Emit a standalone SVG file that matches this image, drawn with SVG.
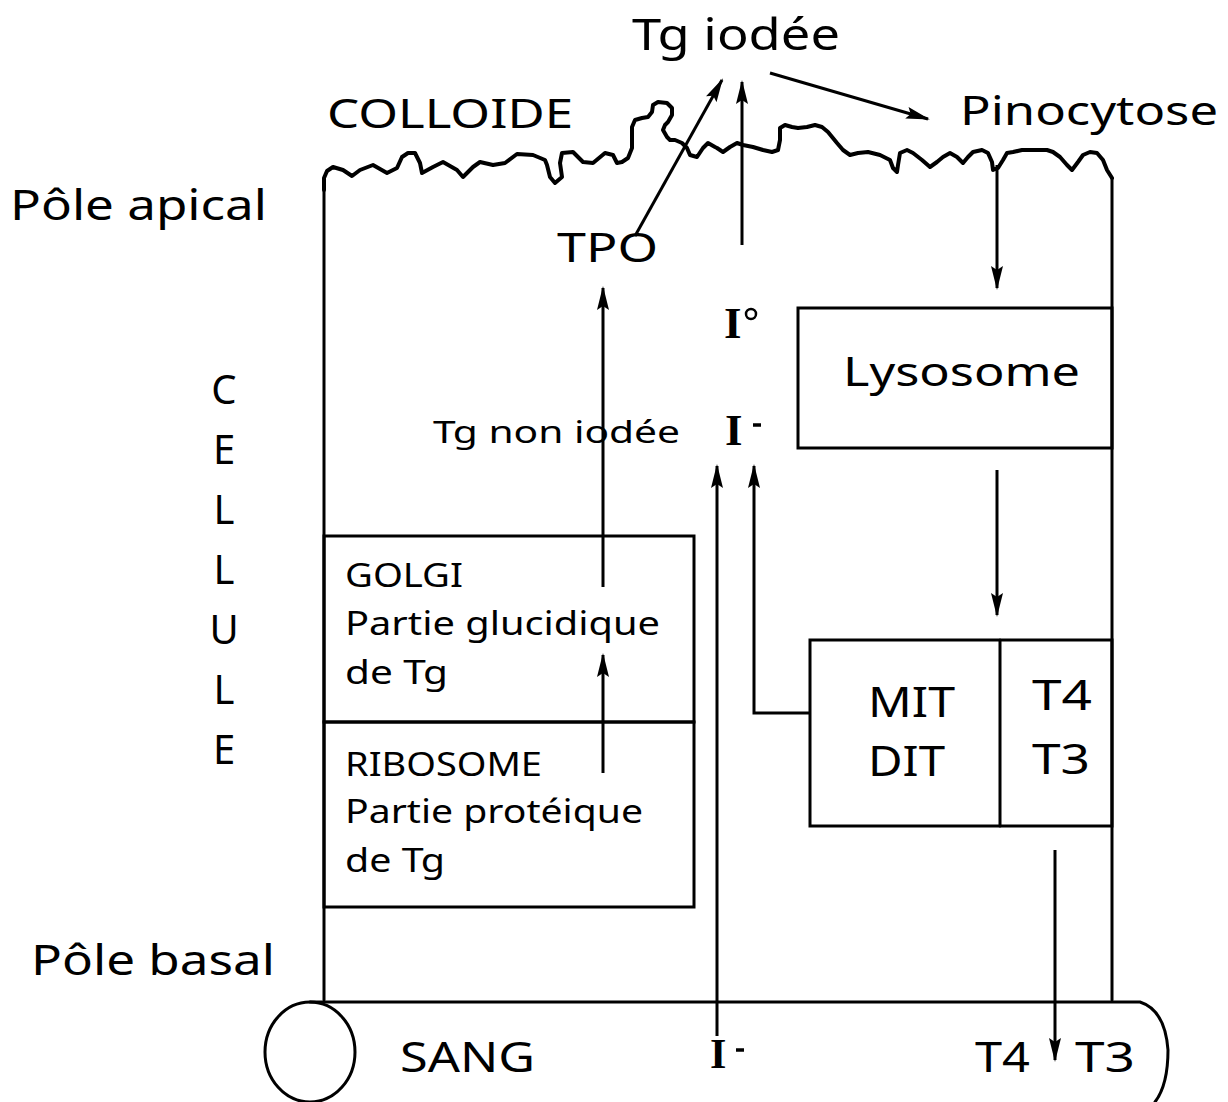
<svg xmlns="http://www.w3.org/2000/svg" width="1228" height="1102" viewBox="0 0 1228 1102">
<style>
.t{font-family:"Noto Sans","Open Sans",sans-serif;fill:#000}
.b{font-family:"Liberation Serif",serif;font-weight:bold;fill:#000}
.ln{fill:none;stroke:#000;stroke-width:3;stroke-linejoin:round;stroke-linecap:round}
.wave{fill:none;stroke:#000;stroke-width:4;stroke-linejoin:round;stroke-linecap:round}
.box{fill:none;stroke:#000;stroke-width:3}
.ar{fill:none;stroke:#000;stroke-width:3;marker-end:url(#ah)}
</style>
<defs>
<marker id="ah" markerUnits="userSpaceOnUse" markerWidth="24" markerHeight="12" refX="22" refY="6" orient="auto">
<path d="M0,0 L24,6 L0,12 L4,6 z" fill="#000"/>
</marker>
</defs>
<rect width="1228" height="1102" fill="#fff"/>
<g id="cell">
<path class="ln" d="M324,1000 L324,180 M1112,178 L1112,1000"/>
<path class="wave" d="M324,190 L324,178 L327,171 L333,167 L343,170 L352,176 L360,170 L373,165 L387,173 L397,168 L402,157 L408,153 L415,153 L420,163 L422,173 L433,167 L443,162 L450,166 L457,170 L463,177 L473,167 L480,162 L493,165 L505,163 L517,154 L533,155 L545,160 L547,165 L550,177 L555,183 L562,177 L560,163 L562,153 L573,152 L583,162 L593,163 L605,153 L613,155 L617,163 L622,162 L628,158 L632,148 L632,137 L632,127 L635,120 L642,118 L648,117 L652,112 L653,105 L658,102 L667,103 L672,108 L672,115 L668,122 L665,125 L663,130 L667,137 L670,140 L675,140 L682,143 L687,148 L690,155 L697,157 L703,148 L708,143 L715,147 L717,148 L723,152 L730,147 L737,143 L743,145 L753,147 L763,150 L772,152 L778,150 L780,140 L780,128 L785,125 L792,127 L798,128 L807,127 L815,125 L822,127 L828,132 L837,143 L843,150 L850,155 L858,153 L868,152 L880,155 L890,160 L893,168 L897,172 L898,165 L900,153 L907,150 L913,153 L922,160 L930,167 L937,162 L943,157 L950,153 L957,157 L963,163 L968,157 L973,152 L982,150 L988,153 L992,162 L993,170 L998,168 L1003,160 L1007,153 L1013,152 L1022,150 L1030,150 L1038,150 L1047,150 L1053,152 L1060,157 L1067,165 L1072,170 L1078,162 L1083,155 L1090,152 L1097,153 L1103,160 L1107,170 L1112,178"/>
</g>
<g id="labels">
<text class="t" x="632" y="50" font-size="44" textLength="208" lengthAdjust="spacingAndGlyphs">Tg iodée</text>
<text class="t" x="327" y="128" font-size="40" textLength="246" lengthAdjust="spacingAndGlyphs">COLLOIDE</text>
<text class="t" x="960" y="125" font-size="40" textLength="258" lengthAdjust="spacingAndGlyphs">Pinocytose</text>
<text class="t" x="10" y="220" font-size="42" textLength="257" lengthAdjust="spacingAndGlyphs">Pôle apical</text>
<text class="t" x="557" y="262" font-size="40" textLength="101" lengthAdjust="spacingAndGlyphs">TPO</text>
<text class="t" x="31" y="975" font-size="42" textLength="244" lengthAdjust="spacingAndGlyphs">Pôle basal</text>
<text class="t" font-size="40" text-anchor="middle"><tspan x="224" y="404">C</tspan><tspan x="224" y="464">E</tspan><tspan x="224" y="524">L</tspan><tspan x="224" y="584">L</tspan><tspan x="224" y="644">U</tspan><tspan x="224" y="704">L</tspan><tspan x="224" y="764">E</tspan></text>
<text class="t" x="433" y="443" font-size="31" textLength="247" lengthAdjust="spacingAndGlyphs">Tg non iodée</text>
<text class="b" x="724" y="338" font-size="45">I</text><circle cx="751" cy="314" r="5" fill="none" stroke="#000" stroke-width="2.5"/>
<text class="b" x="725" y="445" font-size="45">I</text><line x1="753" y1="425" x2="761" y2="425" stroke="#000" stroke-width="3.5"/>
</g>
<g id="lysosome">
<rect class="box" x="798" y="308" width="314" height="140"/>
<text class="t" x="843" y="386" font-size="40" textLength="237" lengthAdjust="spacingAndGlyphs">Lysosome</text>
</g>
<g id="golgi">
<rect class="box" x="324" y="536" width="370" height="186"/>
<text class="t" x="345" y="587" font-size="32" textLength="118" lengthAdjust="spacingAndGlyphs">GOLGI</text>
<text class="t" x="345" y="635" font-size="32" textLength="315" lengthAdjust="spacingAndGlyphs">Partie glucidique</text>
<text class="t" x="345" y="684" font-size="32" textLength="103" lengthAdjust="spacingAndGlyphs">de Tg</text>
</g>
<g id="ribosome">
<rect class="box" x="324" y="722" width="370" height="185"/>
<text class="t" x="345" y="776" font-size="32" textLength="197" lengthAdjust="spacingAndGlyphs">RIBOSOME</text>
<text class="t" x="345" y="823" font-size="32" textLength="298" lengthAdjust="spacingAndGlyphs">Partie protéique</text>
<text class="t" x="345" y="872" font-size="32" textLength="100" lengthAdjust="spacingAndGlyphs">de Tg</text>
</g>
<g id="mitdit">
<rect class="box" x="810" y="640" width="302" height="186"/>
<path class="ln" d="M1000,640 L1000,826"/>
<text class="t" x="868" y="717" font-size="42" textLength="87" lengthAdjust="spacingAndGlyphs">MIT</text>
<text class="t" x="868" y="776" font-size="42" textLength="77" lengthAdjust="spacingAndGlyphs">DIT</text>
<text class="t" x="1032" y="710" font-size="42" textLength="60" lengthAdjust="spacingAndGlyphs">T4</text>
<text class="t" x="1032" y="774" font-size="42" textLength="58" lengthAdjust="spacingAndGlyphs">T3</text>
</g>
<g id="sang">
<ellipse class="ln" cx="310" cy="1052" rx="45" ry="50"/>
<path class="ln" d="M310,1002 L1140,1002 Q1165,1010 1168,1050 Q1168,1085 1155,1102"/>
<text class="t" x="400" y="1072" font-size="42" textLength="135" lengthAdjust="spacingAndGlyphs">SANG</text>
<text class="b" x="710" y="1068" font-size="42">I</text><line x1="736" y1="1050" x2="744" y2="1050" stroke="#000" stroke-width="3.5"/>
<text class="t" x="975" y="1072" font-size="42" textLength="55" lengthAdjust="spacingAndGlyphs">T4</text>
<text class="t" x="1075" y="1072" font-size="42" textLength="60" lengthAdjust="spacingAndGlyphs">T3</text>
</g>
<g id="connectors">
<line class="ar" x1="603" y1="773" x2="603" y2="655"/>
<line class="ar" x1="603" y1="587" x2="603" y2="288"/>
<line class="ar" x1="635" y1="236" x2="722" y2="80"/>
<line class="ar" x1="742" y1="245" x2="742" y2="82"/>
<line class="ar" x1="770" y1="73" x2="928" y2="119"/>
<line class="ar" x1="997" y1="165" x2="997" y2="288"/>
<line class="ar" x1="997" y1="470" x2="997" y2="615"/>
<line class="ar" x1="717" y1="1036" x2="717" y2="466"/>
<polyline class="ar" points="810,713 754,713 754,466"/>
<line class="ar" x1="1055" y1="850" x2="1055" y2="1060"/>
</g>
</svg>
